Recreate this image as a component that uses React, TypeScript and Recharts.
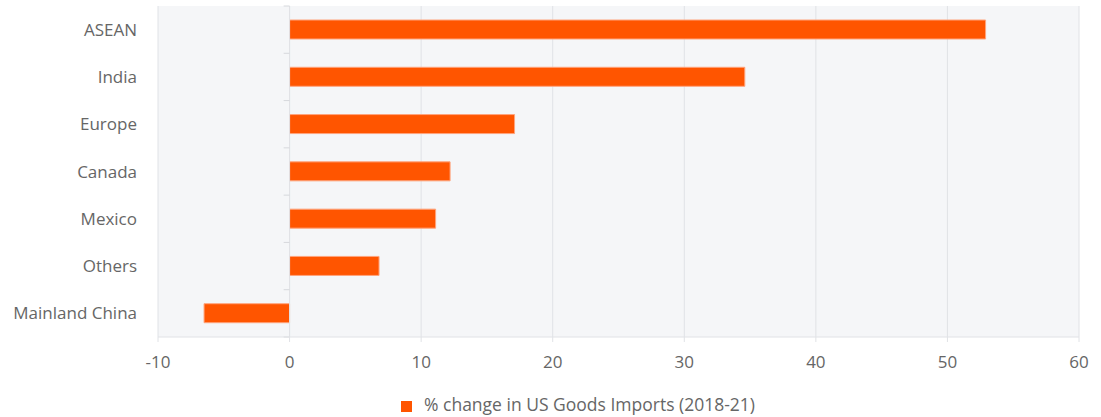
import React from "react";
import {
  BarChart,
  Bar,
  XAxis,
  YAxis,
  CartesianGrid,
  ReferenceLine,
  Legend,
} from "recharts";

const regions = ["ASEAN", "India", "Europe", "Canada", "Mexico", "Others", "Mainland China"];
const importChange = [52.9, 34.6, 17.1, 12.2, 11.1, 6.8, -6.5];
const xTicks = [-10, 0, 10, 20, 30, 40, 50, 60];

const data = regions.map((name, i) => ({ name, value: importChange[i] }));

const ORANGE = "#ff5500";
const GRID = "#e0e2e6";
const TEXT = "#666666";
const FONT = "'Open Sans', Lato, sans-serif";

// short marks on the zero line between categories
function boundaryTick(name: string, position: "start" | "end") {
  return (
    <ReferenceLine
      key={name + position}
      position={position}
      ifOverflow="visible"
      segment={[
        { x: -0.45, y: name },
        { x: 0, y: name },
      ]}
      stroke="#d6d8dc"
    />
  );
}

export default function App() {
  return (
    <div style={{ position: "absolute", left: 0, top: 0, fontFamily: FONT }}>
      <BarChart
        width={1101}
        height={417}
        data={data}
        layout="vertical"
        margin={{ top: 6, right: 22, left: 0, bottom: 0 }}
        barSize={19}
      >
        <CartesianGrid horizontal={false} stroke={GRID} fill="#f5f6f8" />
        <XAxis
          type="number"
          domain={[-10, 60]}
          ticks={xTicks}
          axisLine={{ stroke: GRID }}
          tickLine={{ stroke: GRID }}
          tickSize={5}
          tickMargin={14}
          height={44}
          tick={{ fill: TEXT, fontSize: 17, fontFamily: FONT }}
        />
        <YAxis
          type="category"
          dataKey="name"
          width={158}
          axisLine={false}
          tickLine={false}
          tickSize={0}
          tickMargin={21}
          tick={{ fill: TEXT, fontSize: 17, fontFamily: FONT }}
        />
        <ReferenceLine x={0} stroke={GRID} />
        {regions.map((r) => boundaryTick(r, "start"))}
        {boundaryTick(regions[regions.length - 1], "end")}
        <Bar
          dataKey="value"
          name="% change in US Goods Imports (2018-21)"
          fill={ORANGE}
          stroke="#ffa47c"
          strokeWidth={1}
          isAnimationActive={false}
        />
        <Legend
          verticalAlign="bottom"
          align="left"
          iconType="square"
          iconSize={11}
          height={36}
          wrapperStyle={{ left: 401, width: "auto", top: 392, fontSize: 17.5 }}
          formatter={(v) => <span style={{ color: TEXT, marginLeft: 8 }}>{v}</span>}
        />
      </BarChart>
    </div>
  );
}
